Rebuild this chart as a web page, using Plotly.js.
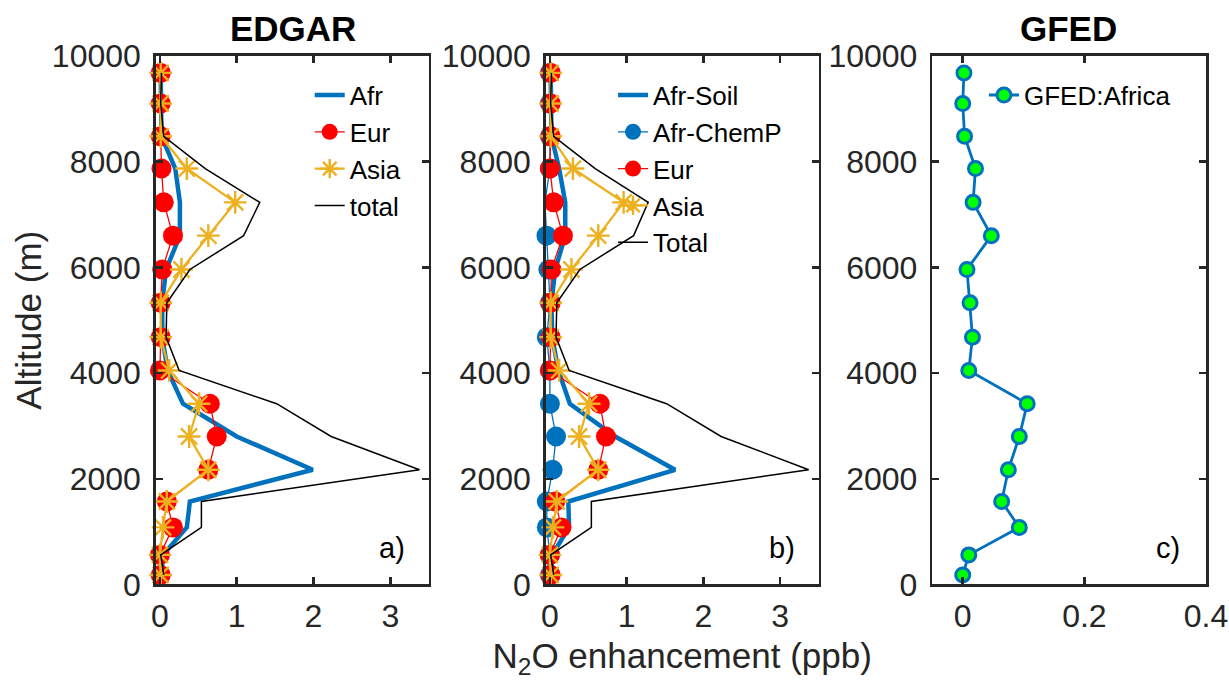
<!DOCTYPE html>
<html>
<head>
<meta charset="utf-8">
<script src="https://cdn.plot.ly/plotly-3.0.1.min.js"></script>
<style>html,body{margin:0;padding:0;background:#fff}#chart{width:1229px;height:686px}</style>
</head>
<body>
<div id="chart"></div>
<script>
// Altitude levels (m), bottom to top
const altitude = [180, 560, 1080, 1570, 2170, 2800, 3420, 4050, 4680, 5330, 5960, 6600, 7230, 7870, 8480, 9100, 9680];

// Panel a) EDGAR
const edgarAfr   = [0.02, 0.04, 0.35, 0.39, 1.99, 1.00, 0.30, 0.10, 0.03, 0.03, 0.08, 0.26, 0.26, 0.20, 0.02, 0.01, 0.01];
const edgarEur   = [0.01, 0.00, 0.17, 0.09, 0.63, 0.74, 0.65, 0.00, 0.01, 0.01, 0.03, 0.17, 0.05, 0.02, 0.01, 0.01, 0.01];
const edgarAsia  = [0.01, 0.00, 0.04, 0.09, 0.63, 0.38, 0.51, 0.12, 0.01, 0.01, 0.28, 0.63, 0.98, 0.35, 0.01, 0.01, 0.01];
const edgarTotal = [0.05, 0.01, 0.54, 0.54, 3.38, 2.23, 1.52, 0.25, 0.08, 0.09, 0.39, 1.09, 1.30, 0.59, 0.05, 0.01, 0.02];

// Panel b) EDGAR split
const bAfrSoil   = [0.02, 0.03, 0.25, 0.24, 1.63, 0.85, 0.26, 0.11, 0.03, 0.02, 0.07, 0.20, 0.20, 0.12, 0.02, 0.01, 0.01];
const bAfrChemP  = [0.00, 0.00, -0.04, -0.04, 0.035, 0.08, 0.00, 0.00, -0.04, 0.00, -0.02, -0.045, -0.065, 0.00, 0.00, 0.00, 0.00];
const bEur       = [0.01, 0.00, 0.15, 0.07, 0.63, 0.73, 0.65, 0.00, 0.01, 0.01, 0.02, 0.17, 0.05, 0.00, 0.01, 0.01, 0.01];
const bAsia      = [0.01, 0.00, 0.04, 0.09, 0.63, 0.38, 0.51, 0.12, 0.01, 0.01, 0.28, 0.63, 0.96, 0.30, 0.01, 0.01, 0.01];
const bTotal     = [0.05, 0.01, 0.54, 0.54, 3.37, 2.23, 1.52, 0.25, 0.08, 0.09, 0.39, 1.09, 1.28, 0.59, 0.05, 0.01, 0.02];

// Panel c) GFED
const gfedAfrica = [0.000, 0.010, 0.093, 0.064, 0.075, 0.093, 0.106, 0.010, 0.016, 0.012, 0.007, 0.047, 0.017, 0.021, 0.003, 0.000, 0.002];

const xTicksEdgar = [0, 1, 2, 3];
const xTicksGfed = [0, 0.2, 0.4];
const yTicks = [0, 2000, 4000, 6000, 8000, 10000];

const BLUE = '#0072BD', RED = '#FF0000', YEL = '#EDB120', AX = '#262626';
const FONT = 'Liberation Sans, Arial, Helvetica, sans-serif';

function afrLine(x, name, xa, ya, lg) {
  return {x: x, y: altitude, name: name, type: 'scatter', mode: 'lines', xaxis: xa, yaxis: ya, legend: lg,
          line: {color: BLUE, width: 4.5}, cliponaxis: false};
}
function eurTrace(x, xa, ya, lg) {
  return {x: x, y: altitude, name: 'Eur', type: 'scatter', mode: 'lines+markers', xaxis: xa, yaxis: ya, legend: lg,
          line: {color: RED, width: 1.3}, marker: {symbol: 'circle', size: 20, color: RED, line: {color: RED, width: 0}}, cliponaxis: false};
}
function asiaTrace(x, xa, ya, lg) {
  return {x: x, y: altitude, name: 'Asia', type: 'scatter', mode: 'lines+markers', xaxis: xa, yaxis: ya, legend: lg,
          line: {color: YEL, width: 2.3}, marker: {symbol: 'asterisk-open', size: 19, color: YEL, line: {color: YEL, width: 2.4}}, cliponaxis: false};
}
function totalTrace(x, name, xa, ya, lg) {
  return {x: x, y: altitude, name: name, type: 'scatter', mode: 'lines', xaxis: xa, yaxis: ya, legend: lg,
          line: {color: '#000000', width: 1.5}, cliponaxis: false};
}

const traces = [
  afrLine(edgarAfr, 'Afr', 'x', 'y', 'legend'),
  eurTrace(edgarEur, 'x', 'y', 'legend'),
  asiaTrace(edgarAsia, 'x', 'y', 'legend'),
  totalTrace(edgarTotal, 'total', 'x', 'y', 'legend'),

  afrLine(bAfrSoil, 'Afr-Soil', 'x2', 'y2', 'legend2'),
  {x: bAfrChemP, y: altitude, name: 'Afr-ChemP', type: 'scatter', mode: 'lines+markers', xaxis: 'x2', yaxis: 'y2', legend: 'legend2',
   line: {color: BLUE, width: 1.3}, marker: {symbol: 'circle', size: 20, color: BLUE, line: {width: 0}}, cliponaxis: false},
  eurTrace(bEur, 'x2', 'y2', 'legend2'),
  asiaTrace(bAsia, 'x2', 'y2', 'legend2'),
  totalTrace(bTotal, 'Total', 'x2', 'y2', 'legend2'),

  {x: gfedAfrica, y: altitude, name: 'GFED:Africa', type: 'scatter', mode: 'lines+markers', xaxis: 'x3', yaxis: 'y3', legend: 'legend3',
   line: {color: BLUE, width: 2.8}, marker: {symbol: 'circle', size: 14, color: '#00FF00', line: {color: BLUE, width: 3}}, cliponaxis: false}
];

const axBase = {
  showline: true, linecolor: AX, linewidth: 2.5, mirror: 'ticks',
  ticks: 'inside', ticklen: 7, tickwidth: 2.5, tickcolor: AX,
  showgrid: false, zeroline: false,
  tickfont: {family: FONT, size: 32, color: AX}
};
const yDom = [0.148, 0.9184];

function xAxis(dom, range, ticks, anchor, extra) {
  return Object.assign({}, axBase, {domain: dom, range: range, tickmode: 'array', tickvals: ticks, anchor: anchor, ticklabelstandoff: 2}, extra || {});
}
function yAxis(anchor, extra) {
  return Object.assign({}, axBase, {domain: yDom, range: [0, 10000], tickmode: 'array', tickvals: yTicks, tickformat: 'd', anchor: anchor, ticklabelstandoff: 6}, extra || {});
}

const legBase = {bgcolor: 'rgba(0,0,0,0)', borderwidth: 0, xanchor: 'left', yanchor: 'top',
                 font: {family: FONT, size: 26, color: '#000'}, tracegroupgap: 0};

const layout = {
  width: 1229, height: 686,
  margin: {l: 0, r: 0, t: 0, b: 0},
  paper_bgcolor: '#fff', plot_bgcolor: '#fff',
  font: {family: FONT, color: AX},
  xaxis: xAxis([0.1267, 0.3488], [-0.055, 3.5], xTicksEdgar, 'y'),
  yaxis: yAxis('x', {title: {text: 'Altitude (m)', font: {family: FONT, size: 35, color: AX}, standoff: 0}}),
  xaxis2: xAxis([0.4440, 0.6661], [-0.055, 3.5], xTicksEdgar, 'y2',
                {title: {text: 'N<sub>2</sub>O enhancement (ppb)', font: {family: FONT, size: 35, color: AX}, standoff: 10}}),
  yaxis2: yAxis('x2'),
  xaxis3: xAxis([0.7586, 0.9813], [-0.05, 0.4], xTicksGfed, 'y3'),
  yaxis3: yAxis('x3'),
  legend: Object.assign({}, legBase, {x: 0.252, y: 0.8956}),
  legend2: Object.assign({}, legBase, {x: 0.4988, y: 0.8956}),
  legend3: Object.assign({}, legBase, {x: 0.8006, y: 0.8956}),
  showlegend: true,
  annotations: [
    {text: '<b>EDGAR</b>', xref: 'paper', yref: 'paper', x: 0.2388, y: 0.959, showarrow: false, xanchor: 'center', yanchor: 'middle',
     font: {family: FONT, size: 35, color: '#000'}},
    {text: '<b>GFED</b>', xref: 'paper', yref: 'paper', x: 0.869, y: 0.959, showarrow: false, xanchor: 'center', yanchor: 'middle',
     font: {family: FONT, size: 35, color: '#000'}},
    {text: 'a)', xref: 'paper', yref: 'paper', x: 0.319, y: 0.201, showarrow: false, xanchor: 'center', yanchor: 'middle',
     font: {family: FONT, size: 29, color: '#000'}},
    {text: 'b)', xref: 'paper', yref: 'paper', x: 0.6363, y: 0.201, showarrow: false, xanchor: 'center', yanchor: 'middle',
     font: {family: FONT, size: 29, color: '#000'}},
    {text: 'c)', xref: 'paper', yref: 'paper', x: 0.9504, y: 0.201, showarrow: false, xanchor: 'center', yanchor: 'middle',
     font: {family: FONT, size: 29, color: '#000'}}
  ]
};

Plotly.newPlot('chart', traces, layout, {staticPlot: true, displayModeBar: false});
</script>
</body>
</html>
